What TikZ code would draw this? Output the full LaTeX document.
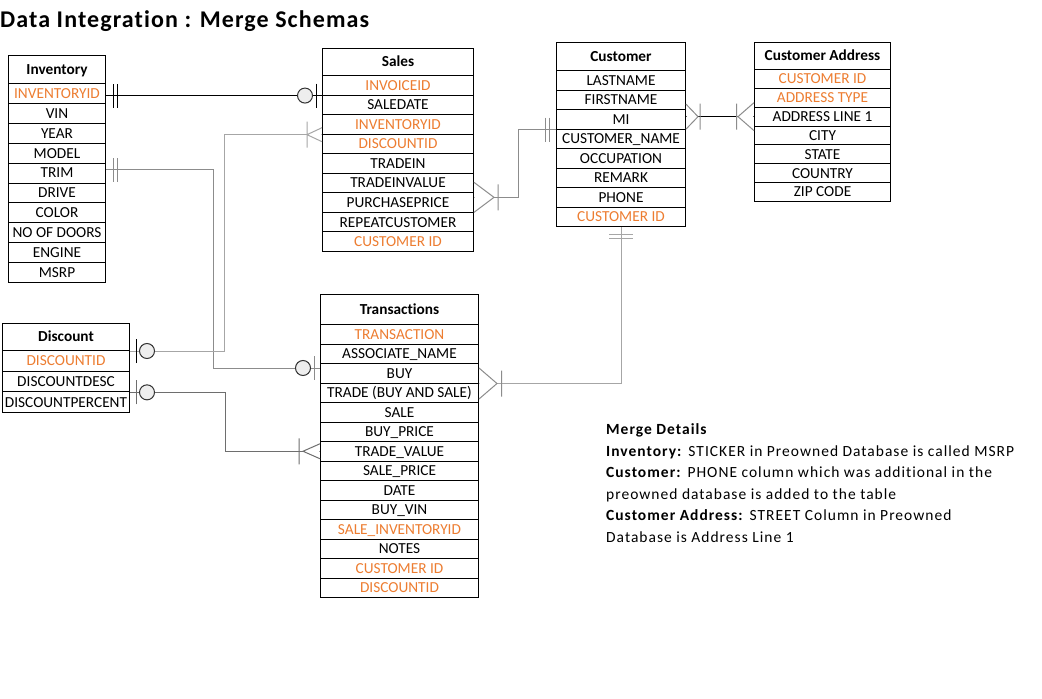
\documentclass[tikz,border=0pt]{standalone}
\usepackage{fontspec}
\setmainfont{Carlito}[Ligatures=CommonOff]
\newfontfamily\titlefont{Carlito}[LetterSpace=4.6,Ligatures=CommonOff]
\newfontfamily\notesfont{Carlito}[LetterSpace=6.5,Ligatures=CommonOff]

\definecolor{fkey}{HTML}{ED7D31}
\definecolor{linkgrey}{HTML}{8C8C8C}
\definecolor{linklight}{HTML}{A6A6A6}
\definecolor{linkdark}{HTML}{6E6E6E}
\definecolor{ringfill}{HTML}{EEEEEE}

\tikzset{
    pics/onebar/.style={code={
        \draw[line width=1pt] (-7,-12) -- (-7,12) (-11,-12) -- (-11,12);
    }},
    pics/zeroone/.style={code={
        \draw[line width=1pt] (-6,-12) -- (-6,12);
        \draw[line width=1pt,fill=ringfill,draw=black!80] (-17,0) circle[radius=7.5];
    }},
    pics/crow/.style n args={3}{code={
        \fill[white] (-0.6,-#2) -- (-#1,0) -- (-0.6,#2) -- cycle;
        \draw[line width=1pt] (0,-#2) -- (-#1,0) -- (0,#2) (-#3,-13) -- (-#3,13);
    }},
}

% name, x, top, width, header height, row height, title, colour/field list
\newcommand{\erdtable}[8]{%
    \node[tablehead,minimum width=#4,minimum height=#5] (#1-0) at (#2,#3) {#7};
    \foreach \tone/\field [count=\i] in {#8}
        \node[tablerow,text=\tone,minimum width=#4,minimum height=#6] (#1-\i) at (#2,#3+#5+\i*#6-#6) {\field};
}

\begin{document}
\begin{tikzpicture}[x=1pt,y=-1pt,
    tablehead/.style={draw,line width=1pt,anchor=north west,inner sep=0pt,text height=9.8pt,text depth=0pt,font=\fontsize{15.3}{17}\selectfont\bfseries},
    tablerow/.style={draw,line width=1pt,anchor=north west,inner sep=0pt,text height=9.8pt,text depth=0pt,font=\fontsize{15.3}{17}\selectfont},
    link/.style={line width=1pt}]
    \path[use as bounding box,fill=white] (0,0) rectangle (1042,699);

    \node[anchor=base west,inner sep=0pt,font=\titlefont\fontsize{24}{26}\selectfont\bfseries] (title) at (0,27) {Data Integration : Merge Schemas};

    \erdtable{inv}{8}{55}{97}{28}{19.9}{Inventory}{fkey/INVENTORYID,black/VIN,black/YEAR,black/MODEL,black/TRIM,black/DRIVE,black/COLOR,black/NO OF DOORS,black/ENGINE,black/MSRP}
    \erdtable{sal}{322}{48}{151}{27}{19.56}{Sales}{fkey/INVOICEID,black/SALEDATE,fkey/INVENTORYID,fkey/DISCOUNTID,black/TRADEIN,black/TRADEINVALUE,black/PURCHASEPRICE,black/REPEATCUSTOMER,fkey/CUSTOMER ID}
    \erdtable{cus}{556}{42}{129}{28}{19.5}{Customer}{black/LASTNAME,black/FIRSTNAME,black/MI,black/CUSTOMER\_NAME,black/OCCUPATION,black/REMARK,black/PHONE,fkey/CUSTOMER ID}
    \erdtable{adr}{754}{42}{136}{27}{18.86}{Customer Address}{fkey/CUSTOMER ID,fkey/ADDRESS TYPE,black/ADDRESS LINE 1,black/CITY,black/STATE,black/COUNTRY,black/ZIP CODE}
    \erdtable{trn}{320}{294}{158}{30}{19.5}{Transactions}{fkey/TRANSACTION,black/ASSOCIATE\_NAME,black/BUY,black/TRADE (BUY AND SALE),black/SALE,black/BUY\_PRICE,black/TRADE\_VALUE,black/SALE\_PRICE,black/DATE,black/BUY\_VIN,fkey/SALE\_INVENTORYID,black/NOTES,fkey/CUSTOMER ID,fkey/DISCOUNTID}
    \erdtable{dis}{2}{323}{127}{27}{20.67}{Discount}{fkey/DISCOUNTID,black/DISCOUNTDESC,black/DISCOUNTPERCENT}

    % Inventory -- Sales
    \draw[link] (inv-1.east |- sal-1.south west) -- (sal-1.south west);
    \pic[rotate=180] at (inv-1.east |- sal-1.south west) {onebar};
    \pic at (sal-1.south west) {zeroone};

    % Inventory -- Transactions
    \draw[link,linkgrey] ([yshift=3.5pt]inv-5.east) -- ++(107,0) |- ([yshift=-4pt]trn-2.south west);
    \pic[rotate=180,color=linkgrey] at ([yshift=3.5pt]inv-5.east) {onebar};
    \pic[color=linkgrey] at ([yshift=-4pt]trn-2.south west) {zeroone};

    % Discount -- Sales
    \draw[link,linklight] (dis-0.south east) -- ++(94,0) |- (sal-3.south west);
    \pic[rotate=180] at (dis-0.south east) {zeroone};
    \pic[color=linklight] at (sal-3.south west) {crow={15}{7}{15}};

    % Discount -- Transactions
    \draw[link,linkdark] (dis-2.south east) -- ++(95,0) |- (trn-7.west);
    \pic[rotate=180,color=linkdark] at (dis-2.south east) {zeroone};
    \pic[color=linkdark] at (trn-7.west) {crow={17}{7.5}{21}};

    % Sales -- Customer
    \draw[link,linkgrey] ([yshift=-4pt]sal-6.south east) -- ++(44,0) |- (cus-3.south west);
    \pic[rotate=180,color=linkgrey] at ([yshift=-4pt]sal-6.south east) {crow={20}{15}{24}};
    \pic[color=linkgrey] at (cus-3.south west) {onebar};

    % Customer -- Customer Address
    \draw[link] (cus-3.east |- adr-3.west) -- (adr-3.west);
    \pic[rotate=180,color=linkgrey] at (cus-3.east |- adr-3.west) {crow={12}{12.5}{14}};
    \pic[color=linkgrey] at (adr-3.west) {crow={16}{14}{17.5}};

    % Customer -- Transactions
    \draw[link,linklight] (cus-8.south) |- (trn-3.south east);
    \pic[rotate=90,color=linklight] at (cus-8.south) {onebar};
    \pic[rotate=180,color=linkgrey] at (trn-3.south east) {crow={18}{15.5}{22.7}};

    \node[anchor=north west,inner sep=0pt,align=left,font=\notesfont\fontsize{15.5}{21.5}\selectfont] (notes) at (606,423.5) {\textbf{Merge Details}\\
        \textbf{Inventory:} STICKER in Preowned Database is called MSRP\\
        \textbf{Customer:} PHONE column which was additional in the\\
        preowned database is added to the table\\
        \textbf{Customer Address:} STREET Column in Preowned\\
        Database is Address Line 1};
\end{tikzpicture}
\end{document}
